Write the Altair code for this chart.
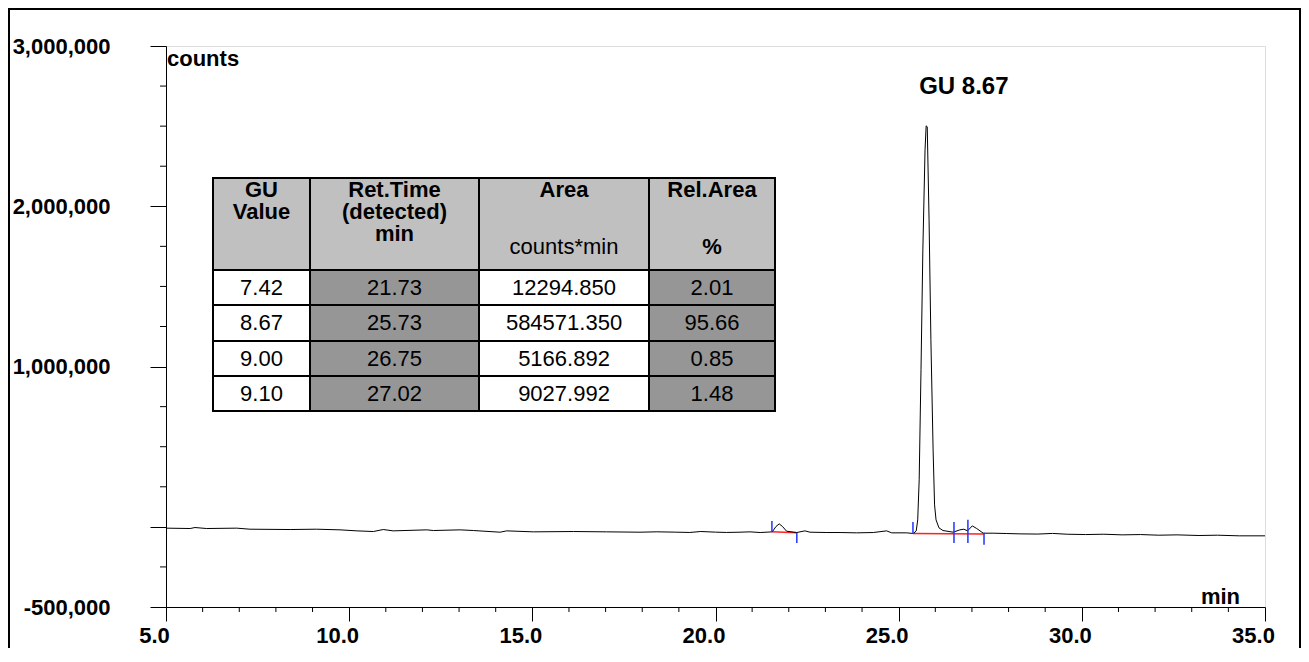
import altair as alt
import pandas as pd

FONT = "Liberation Sans"

# ---------------- data ----------------
trace_time = [5.00, 5.66, 5.79, 6.11, 6.93, 7.29, 8.39, 9.11, 9.75, 10.21, 10.66, 10.93,
              11.20, 12.12, 12.30, 13.03, 13.39, 14.12, 14.30, 15.03, 16.12, 17.03, 17.94,
              18.40, 18.90, 19.30, 19.60, 20.00, 20.30, 20.67, 20.94, 21.22, 21.55, 21.65,
              21.74, 21.83, 21.94, 22.22, 22.44, 22.58, 23.04, 23.40, 23.85, 24.31, 24.67,
              24.81, 25.22, 25.40, 25.48, 25.52, 25.56, 25.61, 25.66, 25.72, 25.75, 25.78,
              25.83, 25.88, 25.94, 25.98, 26.02, 26.10, 26.21, 26.49, 26.67, 26.78, 26.88,
              27.01, 27.13, 27.31, 27.58, 27.95, 28.31, 28.80, 29.20, 29.60, 30.10, 30.60,
              31.10, 31.60, 32.10, 32.60, 33.20, 33.70, 34.30, 35.00]
trace_counts = [-8100, -10400, -4200, -10400, -8100, -14600, -16600, -14600, -18700, -25000,
                -29100, -16600, -25000, -18700, -22900, -18700, -22900, -33300, -25000, -31200,
                -29100, -31200, -33300, -31000, -33000, -35000, -29000, -33000, -35000, -33300,
                -31200, -35400, -31200, 2000, 18700, 2000, -27000, -35400, -25000, -33300,
                -35400, -35400, -37400, -35400, -25000, -37400, -37400, -41600, -25000, 43700,
                293000, 980000, 1728000, 2352000, 2502000, 2496000, 1915000, 1167000, 480000,
                137000, 43700, -6000, -23000, -33300, -18700, -14600, -25000, 6200, -10400,
                -39500, -39500, -41600, -43700, -45000, -41000, -46000, -48000, -46000, -50000,
                -48000, -52000, -50000, -54000, -52000, -56000, -56000]

marker_time = [21.54, 22.22, 25.39, 26.51, 26.89, 27.33]
marker_low = [-31000, -100000, -44000, -100000, -100000, -112000]
marker_high = [37000, -37000, 31000, 31000, 44000, -37000]

baseline_t0 = [21.54, 25.39]
baseline_t1 = [22.22, 27.33]
baseline_c0 = [-31000, -42000]
baseline_c1 = [-37000, -44000]

peak_label = ["GU 8.67"]
peak_label_time = [25.56]
peak_label_counts = [2700000]

gu_values = ["7.42", "8.67", "9.00", "9.10"]
ret_times = ["21.73", "25.73", "26.75", "27.02"]
areas = ["12294.850", "584571.350", "5166.892", "9027.992"]
rel_areas = ["2.01", "95.66", "0.85", "1.48"]
header_titles = ["GU\nValue", "Ret.Time\n(detected)\nmin", "Area", "Rel.Area"]
header_units = ["", "", "counts*min", "%"]

x_major = [5, 10, 15, 20, 25, 30, 35]
x_minor = [t for t in range(5, 36) if t % 5 != 0]
y_major = [-500000, 0, 1000000, 2000000, 3000000]
y_labelled = [-500000, 1000000, 2000000, 3000000]
y_minor = [-250000, 250000, 500000, 750000, 1250000, 1500000, 1750000, 2250000, 2500000, 2750000]

# ---------------- layout (pixels, view coordinates) ----------------
W, H = 1099, 561
PAD = {"left": 158, "top": 38, "right": 36, "bottom": 41}
col_edges = [47, 144, 313, 483, 609]
row_edges = [132, 224, 259, 295, 330, 365]
header_top_y = 151
header_line_h = 22
unit_y = 208
header_fill = "#c0c0c0"
dark_fill = "#969696"

xs = alt.Scale(domain=[5, 35], nice=False, zero=False)
ys = alt.Scale(domain=[-500000, 3000000], nice=False, zero=False)

trace_df = pd.DataFrame({"t": trace_time, "v": trace_counts})
marker_df = pd.DataFrame({"t": marker_time, "lo": marker_low, "hi": marker_high})
base_df = pd.DataFrame({"t0": baseline_t0, "t1": baseline_t1, "c0": baseline_c0, "c1": baseline_c1})
label_df = pd.DataFrame({"t": peak_label_time, "v": peak_label_counts, "txt": peak_label})

x_axis = alt.Axis(values=x_major, format=".1f", tickSize=14, labelPadding=4, labelOffset=-12,
                  title=None, grid=False, labelFlush=False, labelOverlap=False,
                  labelFontSize=22, labelFontWeight="bold", labelFont=FONT, labelColor="black",
                  domainColor="black", tickColor="black")
lab_list = ",".join(str(v) for v in y_labelled)
y_axis = alt.Axis(values=y_major, tickSize=16, labelPadding=40,
                  labelExpr=(f"indexof([{lab_list}], datum.value) >= 0 ? "
                             "(datum.value < 0 ? '-' : '') + format(abs(datum.value), ',d') : ''"),
                  title=None, grid=False, labelFlush=False, labelOverlap=False,
                  labelFontSize=22, labelFontWeight="bold", labelFont=FONT, labelColor="black",
                  domainColor="black", tickColor="black")

trace = alt.Chart(trace_df).mark_line(color="black", strokeWidth=1).encode(
    x=alt.X("t:Q", scale=xs, axis=x_axis),
    y=alt.Y("v:Q", scale=ys, axis=y_axis),
)

xminor = alt.Chart(pd.DataFrame({"t": x_minor})).mark_rule(color="black", strokeWidth=1).encode(
    x=alt.X("t:Q", scale=xs), y=alt.value(H), y2=alt.value(H + 5))
yminor = alt.Chart(pd.DataFrame({"v": y_minor})).mark_rule(color="black", strokeWidth=1).encode(
    y=alt.Y("v:Q", scale=ys), x=alt.value(-6), x2=alt.value(0))

baselines = alt.Chart(base_df).mark_rule(color="#ff2020", strokeWidth=1.5).encode(
    x=alt.X("t0:Q", scale=xs), x2="t1:Q", y=alt.Y("c0:Q", scale=ys), y2="c1:Q")
markers = alt.Chart(marker_df).mark_rule(color="#2233ff", strokeWidth=1.5).encode(
    x=alt.X("t:Q", scale=xs), y=alt.Y("lo:Q", scale=ys), y2="hi:Q")

peak_text = alt.Chart(label_df).mark_text(font=FONT, fontSize=24, fontWeight="bold",
                                          align="left", baseline="alphabetic", color="black").encode(
    x=alt.X("t:Q", scale=xs), y=alt.Y("v:Q", scale=ys), text="txt:N")

counts_text = alt.Chart(pd.DataFrame({"txt": ["counts"]})).mark_text(
    font=FONT, fontSize=22, fontWeight="bold", align="left", baseline="alphabetic", color="black"
).encode(x=alt.value(1), y=alt.value(20), text="txt:N")
min_text = alt.Chart(pd.DataFrame({"txt": ["min"]})).mark_text(
    font=FONT, fontSize=22, fontWeight="bold", align="right", baseline="alphabetic", color="black"
).encode(x=alt.value(1074), y=alt.value(558), text="txt:N")

# ---------------- table ----------------
cells = []
for c in range(4):
    cells.append({"x0": col_edges[c], "x1": col_edges[c + 1], "y0": row_edges[0], "y1": row_edges[1],
                  "fill": header_fill})
    for r in range(4):
        cells.append({"x0": col_edges[c], "x1": col_edges[c + 1], "y0": row_edges[r + 1],
                      "y1": row_edges[r + 2], "fill": dark_fill if c % 2 == 1 else "white"})
cell_df = pd.DataFrame(cells)
table_rects = alt.Chart(cell_df).mark_rect(stroke="black", strokeWidth=2).encode(
    x=alt.X("x0:Q", scale=None), x2="x1:Q",
    y=alt.Y("y0:Q", scale=None), y2="y1:Q",
    fill=alt.Fill("fill:N", scale=None))

cols = [gu_values, ret_times, areas, rel_areas]
body = []
for c in range(4):
    cx = (col_edges[c] + col_edges[c + 1]) / 2
    for r in range(4):
        body.append({"x": cx, "y": (row_edges[r + 1] + row_edges[r + 2]) / 2, "txt": cols[c][r]})
body_df = pd.DataFrame(body)
body_text = alt.Chart(body_df).mark_text(font=FONT, fontSize=22, align="center",
                                         baseline="middle", color="black").encode(
    x=alt.X("x:Q", scale=None), y=alt.Y("y:Q", scale=None), text="txt:N")

hdr = []
for c in range(4):
    cx = (col_edges[c] + col_edges[c + 1]) / 2
    hdr.append({"x": cx, "y": header_top_y, "txt": header_titles[c], "w": "bold"})
    if header_units[c]:
        hdr.append({"x": cx, "y": unit_y, "txt": header_units[c],
                    "w": "bold" if header_units[c] == "%" else "normal"})
hdr_df = pd.DataFrame(hdr)
hdr_bold = alt.Chart(hdr_df).transform_filter("datum.w == 'bold'").mark_text(
    font=FONT, fontSize=22, fontWeight="bold", align="center", baseline="alphabetic",
    color="black", lineBreak="\n", lineHeight=header_line_h
).encode(x=alt.X("x:Q", scale=None), y=alt.Y("y:Q", scale=None), text="txt:N")
hdr_norm = alt.Chart(hdr_df).transform_filter("datum.w == 'normal'").mark_text(
    font=FONT, fontSize=22, align="center", baseline="alphabetic", color="black"
).encode(x=alt.X("x:Q", scale=None), y=alt.Y("y:Q", scale=None), text="txt:N")

# ---------------- outer frame ----------------
frame_df = pd.DataFrame({"k": [0]})
right_x = W + PAD["right"] - 1
frame_left = alt.Chart(frame_df).mark_rule(color="black", strokeWidth=2).encode(
    x=alt.value(-157), y=alt.value(-37), y2=alt.value(H + PAD["bottom"]))
frame_top = alt.Chart(frame_df).mark_rule(color="black", strokeWidth=2).encode(
    x=alt.value(-158), x2=alt.value(right_x + 1), y=alt.value(-37))
frame_right = alt.Chart(frame_df).mark_rule(color="black", strokeWidth=2).encode(
    x=alt.value(right_x), y=alt.value(-37), y2=alt.value(H + PAD["bottom"]))

chart = alt.layer(
    table_rects, body_text, hdr_bold, hdr_norm,
    baselines, trace, markers, xminor, yminor,
    peak_text, counts_text, min_text,
    frame_left, frame_top, frame_right,
).properties(
    width=W, height=H,
    padding=PAD,
    autosize=alt.AutoSizeParams(type="none"),
).configure_view(stroke="black", strokeWidth=1).configure(background="white")

chart.save("out.html", embed_options={"renderer": "svg", "actions": False})
